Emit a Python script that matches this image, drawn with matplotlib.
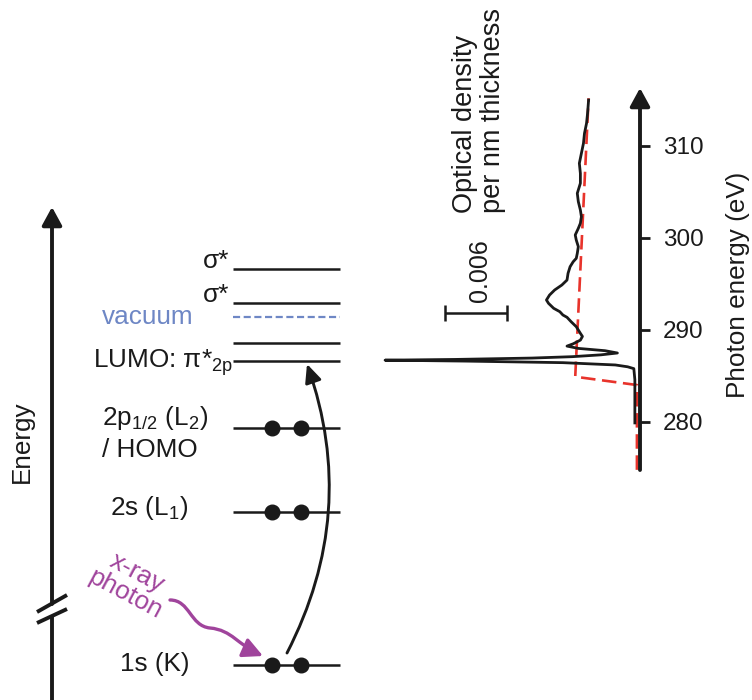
import matplotlib.pyplot as plt
from matplotlib.patches import FancyArrowPatch
from matplotlib.path import Path

plt.rcParams['font.family'] = ['Liberation Sans', 'DejaVu Sans']
plt.rcParams['mathtext.fontset'] = 'custom'
plt.rcParams['mathtext.rm'] = 'Liberation Sans'

# --- absorption spectrum (photon energy in eV, optical density per nm) ---
energy = [279.9, 282.4, 284.6, 285.8, 286.0, 286.2, 286.45, 286.62, 286.72,
          286.8, 286.95, 287.1, 287.3, 287.5, 287.75, 288.0, 288.25, 288.5,
          288.9, 289.3, 289.64, 290.36, 290.9, 291.38, 291.63, 291.99, 292.36,
          292.9, 293.26, 293.8, 294.35, 294.89, 295.43, 296.16, 296.88, 297.42,
          297.79, 298.33, 299.06, 299.78, 300.33, 301.05, 301.6, 302.32, 303.04,
          303.95, 304.86, 305.95, 307.03, 308.12, 309.21, 310.29, 311.38,
          312.47, 313.55, 315.0]
od = [0.0005, 0.0005, 0.0005, 0.0006, 0.0012, 0.0024, 0.0075, 0.0170, 0.0248,
      0.0180, 0.0105, 0.0066, 0.0038, 0.0022, 0.0034, 0.0060, 0.0071, 0.0065,
      0.0058, 0.0056, 0.0058, 0.0062, 0.0067, 0.0071, 0.0075, 0.0078, 0.0084,
      0.0089, 0.0091, 0.0088, 0.0083, 0.0076, 0.0071, 0.0070, 0.0068, 0.0065,
      0.0062, 0.0061, 0.0060, 0.0062, 0.0063, 0.0060, 0.0058, 0.0057, 0.0058,
      0.0060, 0.0061, 0.0058, 0.0058, 0.0059, 0.0057, 0.0055, 0.0054,
      0.0052, 0.0051, 0.0050]

# step-edge fit (red dashed)
fit_energy = [274.8, 284.02, 284.92, 315.19]
fit_od = [0.0003, 0.0003, 0.0063, 0.0050]

energy_ticks = [280, 290, 300, 310]
scale_od = 0.006
scale_energy = 291.85
scale_center = 0.01597

# --- energy level diagram (pixel layout) ---
level_x = (233, 340)
level_y = [269, 303, 343, 361, 428, 512, 665]   # solid levels
vacuum_y = 317
filled_y = [428, 512, 665]
electron_x = [272, 301]

ink = '#1a1a1a'
purple = '#a0449c'
vac_blue = '#6e87c5'
red = '#e8332b'
fs = 18.8

fig = plt.figure(figsize=(7.52, 7.0), dpi=100)
ax0 = fig.add_axes([0, 0, 1, 1])
ax0.set_xlim(0, 752)
ax0.set_ylim(700, 0)
ax0.axis('off')

# Energy axis with break
ax0.plot([52, 52], [700, 616], color=ink, lw=2.8, solid_capstyle='butt')
ax0.annotate('', xy=(52, 207), xytext=(52, 604),
             arrowprops=dict(arrowstyle='-|>,head_length=0.55,head_width=0.3',
                             lw=2.8, color=ink, mutation_scale=20,
                             shrinkA=0, shrinkB=0))
ax0.plot([37, 67], [612, 595], color=ink, lw=2.8, solid_capstyle='butt')
ax0.plot([37, 67], [623, 609], color=ink, lw=2.8, solid_capstyle='butt')
ax0.text(22, 442, 'Energy', rotation=90, ha='center', va='center',
         fontsize=fs, color=ink)

# levels
for y in level_y:
    ax0.plot(level_x, [y, y], color=ink, lw=1.8, solid_capstyle='butt')
ax0.plot(level_x, [vacuum_y, vacuum_y], color=vac_blue, lw=1.6,
         dashes=(3.2, 1.6))
for y in filled_y:
    ax0.plot(electron_x, [y, y], 'o', color=ink, ms=10.5, zorder=3)

ax0.text(229, 268, 'σ*', ha='right', va='baseline', fontsize=fs, color=ink)
ax0.text(229, 302, 'σ*', ha='right', va='baseline', fontsize=fs, color=ink)
ax0.text(194, 324, 'vacuum', ha='right', va='baseline', fontsize=fs,
         color=vac_blue)
ax0.text(233, 367, r'LUMO: π*$_{\mathregular{2p}}$', ha='right',
         va='baseline', fontsize=fs, color=ink)
ax0.text(102, 425, r'2p$_{\mathregular{1/2}}$ (L$_{\mathregular{2}}$)',
         ha='left', va='baseline', fontsize=fs, color=ink)
ax0.text(102, 457, '/ HOMO', ha='left', va='baseline', fontsize=fs, color=ink)
ax0.text(110, 515, r'2s (L$_{\mathregular{1}}$)', ha='left', va='baseline',
         fontsize=fs, color=ink)
ax0.text(120, 671, '1s (K)', ha='left', va='baseline', fontsize=fs, color=ink)

# x-ray photon
ax0.text(131, 584, 'x-ray\nphoton', rotation=-28, ha='center', va='center',
         fontsize=fs, color=purple, linespacing=1.0)
wave = Path([(170, 600), (190, 600), (190, 626), (210, 628),
             (232, 630), (238, 645), (263, 656)],
            [Path.MOVETO, Path.CURVE4, Path.CURVE4, Path.CURVE4,
             Path.CURVE4, Path.CURVE4, Path.CURVE4])
ax0.add_patch(FancyArrowPatch(path=wave,
                              arrowstyle='-|>,head_length=0.6,head_width=0.3',
                              mutation_scale=20, lw=2.4, color=purple))

# excitation 1s -> LUMO
ax0.add_patch(FancyArrowPatch((287, 653), (307, 364),
                              connectionstyle='arc3,rad=0.215',
                              arrowstyle='-|>,head_length=0.55,head_width=0.25',
                              mutation_scale=20, lw=2.1, color=ink,
                              shrinkA=0, shrinkB=0))

# --- spectrum panel ---
L, R, T, B = 370, 640, 88, 470
axs = fig.add_axes([L / 752, 1 - B / 700, (R - L) / 752, (B - T) / 700])
axs.set_facecolor('none')
px_per_od = 10280
px_per_ev = 9.2
axs.set_xlim((R - L) / px_per_od, 0)
axs.set_ylim(280 - (B - 422) / px_per_ev, 280 + (422 - T) / px_per_ev)
for s in axs.spines.values():
    s.set_visible(False)
axs.set_xticks([])
axs.yaxis.tick_right()
axs.set_yticks(energy_ticks)
axs.tick_params(axis='y', direction='out', length=7.5, width=2.0, pad=9,
                labelsize=17.5, colors=ink)
e0, e1 = axs.get_ylim()
axs.annotate('', xy=(0, e1), xytext=(0, e0), annotation_clip=False,
             arrowprops=dict(arrowstyle='-|>,head_length=0.55,head_width=0.3',
                             lw=2.8, color=ink, mutation_scale=20,
                             shrinkA=0, shrinkB=0))

axs.plot(fit_od, fit_energy, color=red, lw=1.9, dashes=(5.5, 2.5),
         clip_on=False)
axs.plot(od, energy, color=ink, lw=2.0, clip_on=False, solid_joinstyle='round')

axs.errorbar([scale_center], [scale_energy], xerr=scale_od / 2, fmt='none',
             ecolor=ink, elinewidth=1.8, capsize=5.8, capthick=1.8)

ax0.text(480, 302, '0.006', rotation=90, ha='center', va='bottom',
         fontsize=18, color=ink)
ax0.text(479, 213, 'Optical density\nper nm thickness', rotation=90,
         ha='center', va='bottom', multialignment='left', fontsize=19.5,
         color=ink, linespacing=1.1)
ax0.text(738, 285, 'Photon energy (eV)', rotation=90, ha='center',
         va='center', fontsize=fs, color=ink)

fig.savefig('out.png', dpi=100)
